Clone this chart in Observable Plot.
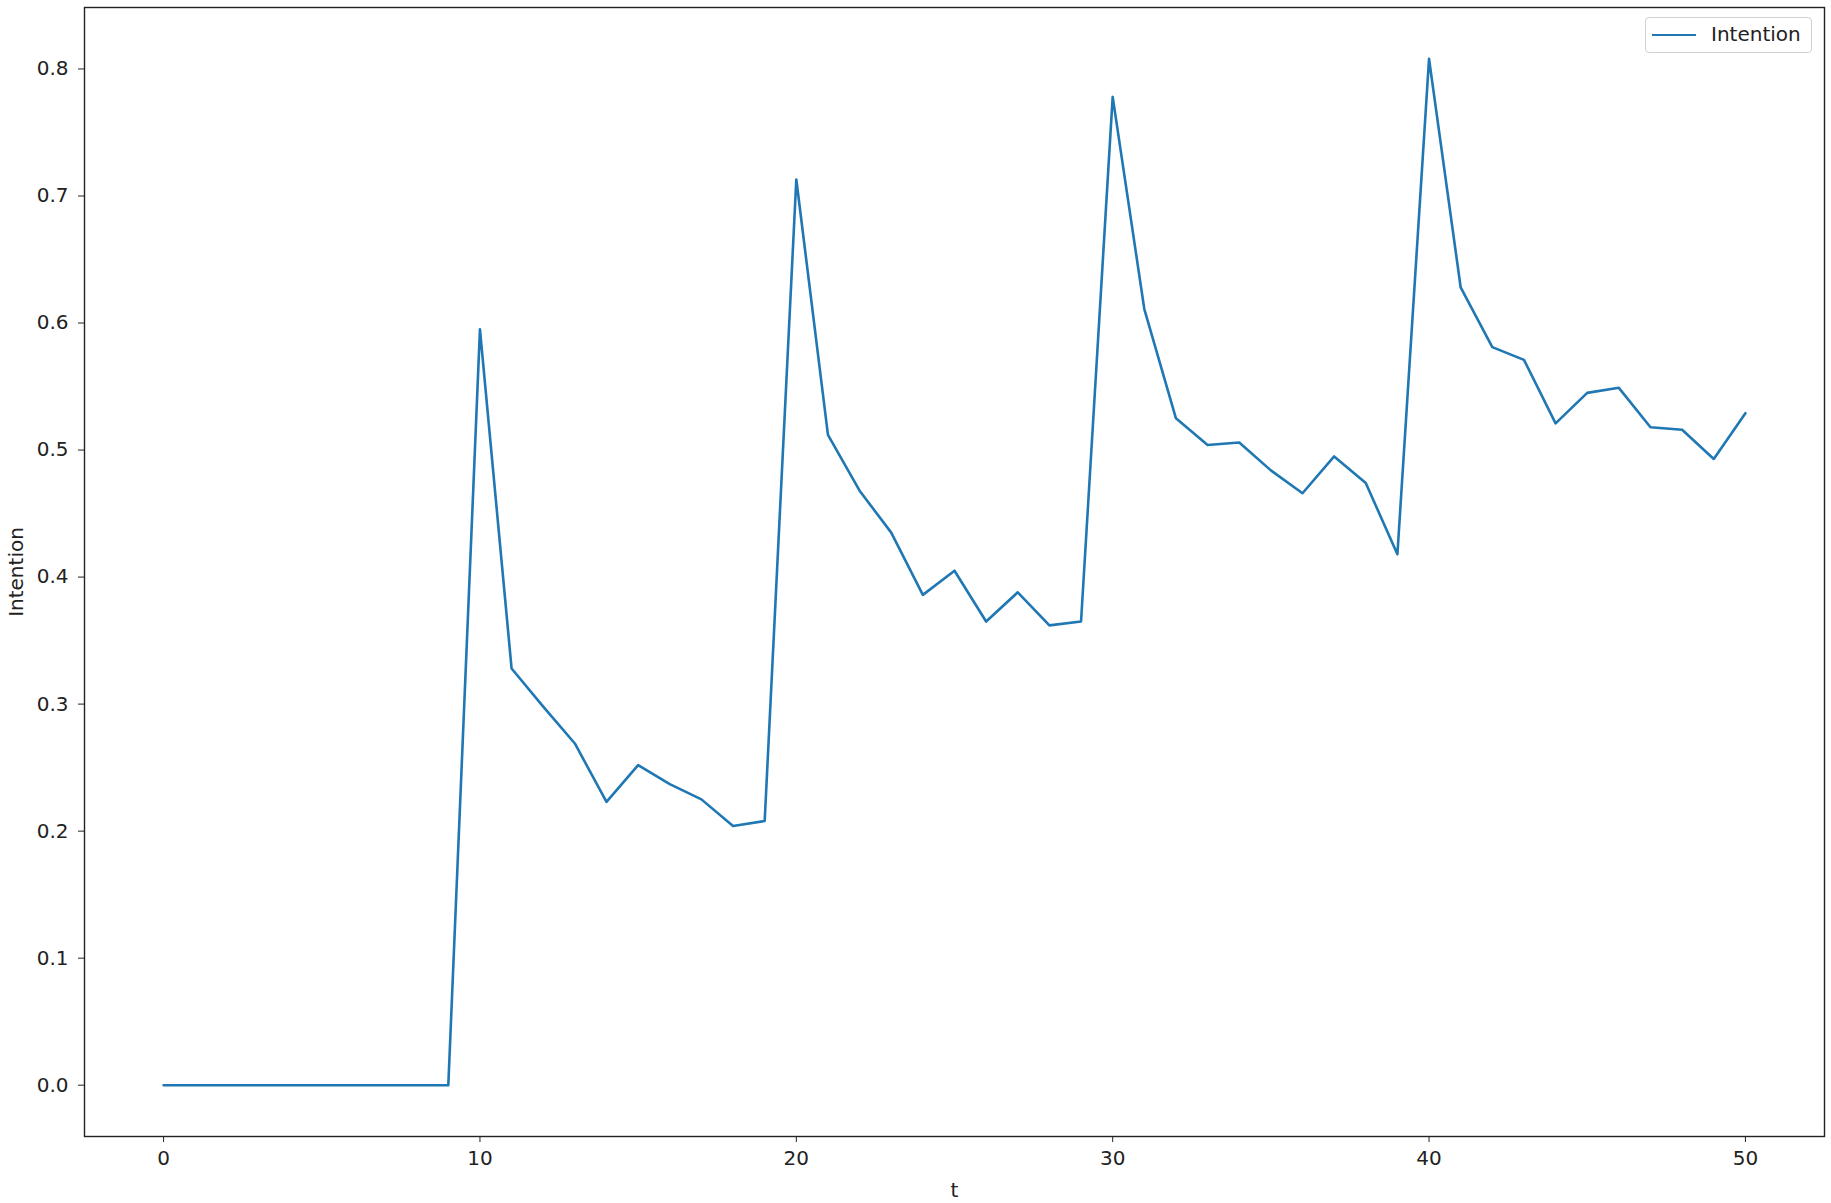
<!DOCTYPE html>
<html>
<head>
<meta charset="utf-8">
<script src="https://cdn.jsdelivr.net/npm/d3@7"></script>
<script src="https://cdn.jsdelivr.net/npm/@observablehq/plot@0.6"></script>
<style>
  html, body { margin: 0; padding: 0; background: #fff; }
  #wrap { position: relative; width: 1831px; height: 1203px; }
  #legend {
    position: absolute; left: 1645px; top: 17px; width: 167px; height: 36px;
    border: 1px solid #d0d0d0; border-radius: 4px; background: rgba(255,255,255,0.8);
    box-sizing: border-box; font-family: "DejaVu Sans", sans-serif; font-size: 20px; color: #222;
  }
  #legend .swatch { position: absolute; left: 6px; top: 16px; width: 44px; height: 0; border-top: 2.6px solid #1f77b4; }
  #legend .lbl { position: absolute; left: 65px; top: 4px; line-height: 24px; }
</style>
</head>
<body>
<div id="wrap"><div id="legend"><div class="swatch"></div><div class="lbl">Intention</div></div></div>
<script>
const seriesName = "Intention";
const tValues = [0,1,2,3,4,5,6,7,8,9,10,11,12,13,14,15,16,17,18,19,20,21,22,23,24,25,26,27,28,29,30,31,32,33,34,35,36,37,38,39,40,41,42,43,44,45,46,47,48,49,50];
const intention = [0,0,0,0,0,0,0,0,0,0,
  0.595,0.328,0.298,0.269,0.223,0.252,0.237,0.225,0.204,0.208,
  0.713,0.512,0.468,0.435,0.386,0.405,0.365,0.388,0.362,0.365,
  0.778,0.611,0.525,0.504,0.506,0.484,0.466,0.495,0.474,0.418,
  0.808,0.628,0.581,0.571,0.521,0.545,0.549,0.518,0.516,0.493,
  0.529];
const xTicks = [0,10,20,30,40,50];
const yTicks = [0,0.1,0.2,0.3,0.4,0.5,0.6,0.7,0.8];

const data = tValues.map((t, i) => ({t, v: intention[i]}));

const chart = Plot.plot({
  width: 1831,
  height: 1203,
  marginLeft: 84,
  marginRight: 7,
  marginTop: 7,
  marginBottom: 67,
  style: {fontFamily: "DejaVu Sans, sans-serif", fontSize: "20px", color: "#222", background: "#fff"},
  x: {domain: [-2.5, 52.5]},
  y: {domain: [-0.0404, 0.8484]},
  marks: [
    Plot.axisX({ticks: xTicks, tickSize: 6, tickPadding: 8, label: "t", labelAnchor: "center", labelOffset: 60, labelArrow: "none", tickFormat: d3.format("d")}),
    Plot.axisY({ticks: yTicks, tickSize: 6, tickPadding: 10, label: seriesName, labelAnchor: "center", labelOffset: 76, labelArrow: "none", tickFormat: d3.format(".1f")}),
    Plot.line(data, {x: "t", y: "v", stroke: "#1f77b4", strokeWidth: 2.6}),
    Plot.frame({stroke: "#222", strokeWidth: 1.4})
  ]
});
document.getElementById("wrap").prepend(chart);
</script>
</body>
</html>
